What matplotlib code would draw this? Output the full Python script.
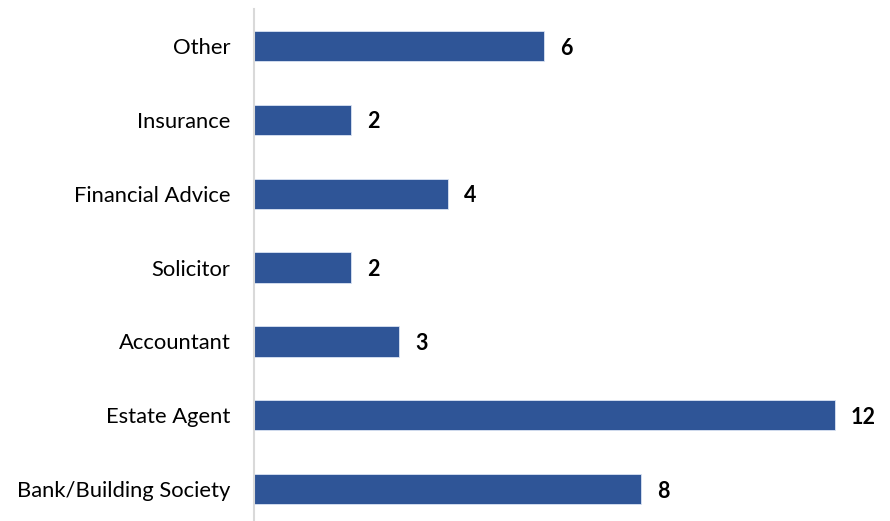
import matplotlib
matplotlib.use("Agg")
import matplotlib.pyplot as plt

# Data
categories = ["Bank/Building Society", "Estate Agent", "Accountant", "Solicitor",
              "Financial Advice", "Insurance", "Other"]
values = [8, 12, 3, 2, 4, 2, 6]

plt.rcParams['font.family'] = ['Lato', 'DejaVu Sans']

fig = plt.figure(figsize=(8.9, 5.21), dpi=100)
ax = fig.add_axes([254 / 890, 0, 636 / 890, 512 / 521])

pos = list(range(len(categories)))
ax.barh(pos, values, height=0.41, color="#2F5597", edgecolor="#DAE3F3", linewidth=0.6)

for y, v in zip(pos, values):
    ax.annotate(str(v), xy=(v, y), xytext=(11.5, -1.5), textcoords="offset points",
                ha="left", va="center", fontsize=15.5, fontweight="bold", color="black")

ax.set_xlim(0, 13.14)
ax.set_ylim(-0.432, 6.5)
ax.set_yticks(pos)
ax.set_yticklabels(categories, fontsize=15.8)
ax.tick_params(axis="y", length=0, pad=17)
ax.set_xticks([])
for side in ["top", "right", "bottom"]:
    ax.spines[side].set_visible(False)
ax.spines["left"].set_color("#D9D9D9")
ax.spines["left"].set_linewidth(1.5)

fig.savefig("out.png", dpi=100)
